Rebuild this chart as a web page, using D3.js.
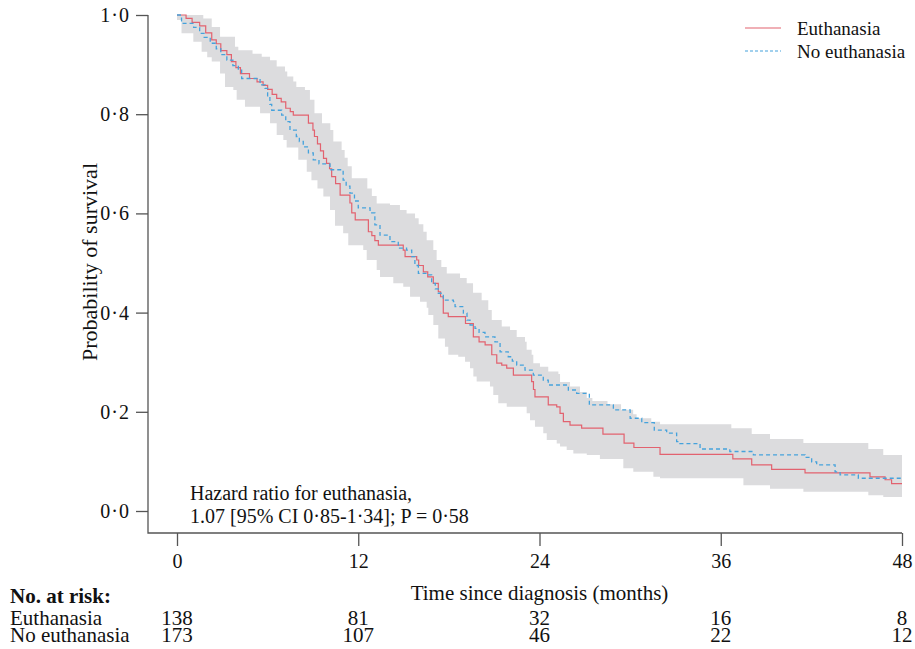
<!DOCTYPE html>
<html>
<head>
<meta charset="utf-8">
<script src="https://cdn.jsdelivr.net/npm/d3@7"></script>
<style>
  html, body { margin: 0; padding: 0; background: #fff; }
  svg { display: block; }
  text { font-family: "Liberation Serif", "Times New Roman", serif; fill: #111; }
</style>
</head>
<body>
<svg id="chart" width="915" height="649"></svg>
<script>
// Kaplan–Meier survival by group: [time in months, survival after the step]
const euthanasia = [
  [0,1.0],[0.6,0.993],[1.0,0.985],[1.5,0.978],[1.9,0.964],[2.3,0.950],[2.6,0.942],[2.9,0.928],
  [3.3,0.920],[3.6,0.906],[3.9,0.894],[4.2,0.882],[4.8,0.872],[5.3,0.865],[5.7,0.858],[6.0,0.850],
  [6.3,0.840],[6.6,0.832],[6.9,0.825],[7.2,0.812],[7.5,0.805],[7.7,0.798],[8.7,0.782],[9.0,0.768],
  [9.1,0.755],[9.3,0.740],[9.5,0.726],[9.7,0.711],[9.9,0.701],[10.1,0.690],[10.24,0.674],[10.5,0.660],
  [10.8,0.637],[11.45,0.621],[11.57,0.601],[11.8,0.587],[12.67,0.563],[12.9,0.555],[13.1,0.545],
  [13.33,0.536],[14.98,0.526],[15.1,0.513],[15.87,0.506],[16.0,0.495],[16.31,0.482],[16.6,0.472],
  [16.97,0.459],[17.3,0.442],[17.45,0.432],[17.63,0.399],[17.96,0.392],[19.1,0.378],[19.62,0.351],
  [20.0,0.341],[20.4,0.335],[20.84,0.315],[21.17,0.298],[21.5,0.294],[21.83,0.288],[22.27,0.274],
  [23.48,0.261],[23.6,0.245],[23.7,0.230],[24.58,0.214],[25.14,0.210],[25.36,0.197],[25.58,0.180],
  [26.02,0.173],[26.79,0.167],[28.2,0.155],[29.6,0.137],[30.25,0.128],[31.98,0.114],[36.8,0.105],
  [38.05,0.093],[39.37,0.084],[41.58,0.077],[45.88,0.069],[46.88,0.063],[47.31,0.055]
];
const noEuthanasia = [
  [0,1.0],[0.3,0.983],[1.1,0.975],[1.5,0.963],[1.8,0.955],[2.2,0.943],[2.6,0.932],[2.9,0.920],
  [3.3,0.909],[3.7,0.898],[4.06,0.889],[4.28,0.872],[5.5,0.859],[5.83,0.852],[6.0,0.835],[6.15,0.820],
  [6.27,0.808],[6.93,0.798],[7.2,0.785],[7.48,0.768],[7.9,0.755],[8.1,0.745],[8.36,0.734],[8.7,0.722],
  [9.02,0.708],[9.4,0.700],[10.13,0.688],[11.0,0.667],[11.2,0.655],[11.45,0.641],[11.75,0.625],
  [12.0,0.611],[12.78,0.601],[13.1,0.577],[13.44,0.556],[14.1,0.543],[14.65,0.530],[15.2,0.526],
  [15.54,0.513],[15.75,0.495],[15.98,0.479],[16.53,0.476],[16.86,0.459],[17.1,0.448],[17.3,0.439],
  [17.63,0.425],[18.3,0.422],[18.41,0.412],[18.96,0.399],[19.2,0.385],[19.4,0.375],[19.73,0.368],
  [20.0,0.360],[20.39,0.351],[21.05,0.341],[21.39,0.321],[21.93,0.311],[22.2,0.302],[22.49,0.294],
  [23.04,0.284],[23.59,0.274],[24.25,0.264],[24.58,0.254],[25.91,0.244],[26.46,0.237],[27.3,0.214],
  [28.89,0.204],[30.0,0.187],[30.77,0.178],[31.6,0.163],[32.42,0.157],[33.08,0.140],[33.3,0.136],
  [34.63,0.125],[36.6,0.120],[38.16,0.113],[41.58,0.108],[42.02,0.099],[42.35,0.093],[43.57,0.079],
  [43.9,0.073],[45.11,0.066]
];
// 95% confidence band, upper and lower limits as step functions
const ciUpper = [
  [0,1.0],[1.74,0.993],[2.3,0.976],[2.85,0.956],[3.84,0.936],[4.06,0.929],[5.0,0.922],[5.61,0.916],
  [6.16,0.909],[6.6,0.896],[7.15,0.886],[7.3,0.876],[7.7,0.866],[7.9,0.855],[8.47,0.849],[8.8,0.829],
  [9.1,0.802],[9.6,0.782],[10.15,0.768],[10.35,0.745],[10.9,0.728],[11.1,0.712],[11.3,0.695],
  [11.57,0.671],[12.6,0.650],[12.9,0.635],[13.22,0.620],[14.1,0.617],[14.76,0.607],[15.2,0.600],
  [15.76,0.590],[16.0,0.578],[16.31,0.563],[16.53,0.546],[16.97,0.526],[17.19,0.506],[17.5,0.492],
  [17.86,0.479],[18.74,0.470],[19.18,0.459],[19.6,0.440],[20.17,0.425],[20.61,0.405],[20.84,0.385],
  [21.5,0.372],[22.05,0.365],[22.49,0.351],[23.04,0.341],[23.15,0.325],[23.48,0.315],[23.59,0.298],
  [24.03,0.291],[24.58,0.281],[25.25,0.276],[25.36,0.260],[26.02,0.251],[26.68,0.240],[27.13,0.228],
  [27.5,0.222],[28.5,0.215],[29.4,0.204],[30.2,0.195],[30.43,0.187],[31.4,0.180],[31.98,0.175],
  [36.7,0.167],[38.05,0.155],[39.26,0.145],[41.47,0.137],[45.77,0.125],[46.76,0.113]
];
const ciLower = [
  [0,0.99],[0.3,0.963],[1.08,0.946],[1.63,0.926],[2.0,0.915],[2.3,0.906],[2.85,0.882],[3.18,0.855],
  [3.73,0.849],[3.95,0.829],[4.5,0.815],[5.5,0.802],[6.16,0.782],[6.6,0.758],[7.04,0.748],[7.26,0.733],
  [8.03,0.708],[8.59,0.684],[8.9,0.667],[9.3,0.650],[9.69,0.634],[10.13,0.607],[10.46,0.575],
  [11.0,0.560],[11.34,0.536],[12.33,0.526],[12.56,0.506],[13.22,0.486],[13.44,0.472],[14.32,0.459],
  [14.98,0.452],[15.43,0.432],[16.09,0.422],[16.53,0.410],[16.64,0.395],[16.97,0.375],[17.3,0.348],
  [17.74,0.331],[17.96,0.315],[18.62,0.311],[19.07,0.301],[19.4,0.288],[19.62,0.271],[19.84,0.261],
  [20.72,0.251],[20.94,0.234],[21.27,0.217],[21.83,0.210],[23.15,0.197],[23.37,0.183],[23.7,0.170],
  [24.25,0.157],[24.48,0.143],[25.14,0.136],[25.36,0.130],[25.8,0.123],[26.24,0.116],[27.13,0.113],
  [28.0,0.105],[29.55,0.086],[30.21,0.079],[31.54,0.069],[31.98,0.066],[37.5,0.052],[39.26,0.045],
  [41.47,0.039],[45.77,0.032],[46.76,0.028]
];

const xTicks = [0, 12, 24, 36, 48];
const yTicks = [0, 0.2, 0.4, 0.6, 0.8, 1.0];
const yTickLabels = ["0·0", "0·2", "0·4", "0·6", "0·8", "1·0"];
const groups = ["Euthanasia", "No euthanasia"];
const atRiskEuthanasia = [138, 81, 32, 16, 8];
const atRiskNoEuthanasia = [173, 107, 46, 22, 12];
const hazardText = ["Hazard ratio for euthanasia,", "1.07 [95% CI 0·85-1·34]; P = 0·58"];

const maxT = 48;
const colRed = "#e2626f";
const colBlue = "#45a2dc";
const colBand = "#dcdcde";
const colAxis = "#555";

const svg = d3.select("#chart");
const x = d3.scaleLinear().domain([0, maxT]).range([177, 902]);
const y = d3.scaleLinear().domain([0, 1]).range([511, 15]);
const axisY = 533;  // baseline of the x axis
const axisX = 148;  // position of the y axis

function stepAt(arr, t) {
  let v = arr[0][1];
  for (const [tt, vv] of arr) { if (tt <= t) v = vv; else break; }
  return v;
}

// confidence band
const bandTimes = Array.from(new Set([...ciUpper.map(d => d[0]), ...ciLower.map(d => d[0]), maxT])).sort((a, b) => a - b);
const band = bandTimes.map(t => ({ t, lo: stepAt(ciLower, t), hi: stepAt(ciUpper, t) }));
svg.append("path")
  .datum(band)
  .attr("fill", colBand)
  .attr("d", d3.area().x(d => x(d.t)).y0(d => y(d.lo)).y1(d => y(d.hi)).curve(d3.curveStepAfter));

// survival curves
const stepLine = d3.line().x(d => x(d[0])).y(d => y(d[1])).curve(d3.curveStepAfter);
function withEnd(arr) { return arr.concat([[maxT, arr[arr.length - 1][1]]]); }
svg.append("path").datum(withEnd(euthanasia))
  .attr("fill", "none").attr("stroke", colRed).attr("stroke-width", 1.2).attr("d", stepLine);
svg.append("path").datum(withEnd(noEuthanasia))
  .attr("fill", "none").attr("stroke", colBlue).attr("stroke-width", 1.3)
  .attr("stroke-dasharray", "4,3").attr("d", stepLine);

// L-shaped frame
svg.append("path")
  .attr("d", `M${axisX},${y(1)}V${axisY}H${x(maxT)}`)
  .attr("fill", "none").attr("stroke", colAxis).attr("stroke-width", 1.3);

// y axis
const gy = svg.append("g").attr("transform", `translate(${axisX},0)`)
  .call(d3.axisLeft(y).tickValues(yTicks).tickSize(12).tickPadding(6)
    .tickFormat((d, i) => yTickLabels[i]));
gy.select(".domain").remove();
gy.selectAll(".tick line").attr("stroke", colAxis).attr("stroke-width", 1.3);
gy.selectAll(".tick text").attr("font-size", 20).attr("fill", "#111")
  .attr("font-family", "Liberation Serif").attr("letter-spacing", 1);

// x axis
const gx = svg.append("g").attr("transform", `translate(0,${axisY})`)
  .call(d3.axisBottom(x).tickValues(xTicks).tickSize(13).tickFormat(d3.format("d")));
gx.select(".domain").remove();
gx.selectAll(".tick line").attr("stroke", colAxis).attr("stroke-width", 1.3);
gx.selectAll(".tick text").attr("font-size", 20).attr("fill", "#111")
  .attr("font-family", "Liberation Serif").attr("y", 35).attr("dy", null);

// axis titles
svg.append("text").attr("x", x(24)).attr("y", 600).attr("text-anchor", "middle")
  .attr("font-size", 21).text("Time since diagnosis (months)");
svg.append("text").attr("transform", `translate(97,262) rotate(-90)`).attr("text-anchor", "middle")
  .attr("font-size", 22).text("Probability of survival");

// hazard ratio annotation
svg.selectAll(".hr").data(hazardText).enter().append("text")
  .attr("x", 190).attr("y", (d, i) => 500 + i * 23).attr("font-size", 20).text(d => d);

// legend
const legend = svg.append("g");
const legendRows = [
  { label: groups[0], color: colRed, dash: null, y: 28 },
  { label: groups[1], color: colBlue, dash: "3,2", y: 51 }
];
legendRows.forEach(r => {
  legend.append("line").attr("x1", 745).attr("x2", 781).attr("y1", r.y).attr("y2", r.y)
    .attr("stroke", r.color).attr("stroke-width", 1.2).attr("stroke-dasharray", r.dash);
  legend.append("text").attr("x", 797).attr("y", r.y + 7).attr("font-size", 19).text(r.label);
});

// number at risk table
svg.append("text").attr("x", 10).attr("y", 603).attr("font-size", 21).attr("font-weight", "bold")
  .text("No. at risk:");
[atRiskEuthanasia, atRiskNoEuthanasia].forEach((row, r) => {
  const yy = 625 + r * 17;
  svg.append("text").attr("x", 10).attr("y", yy).attr("font-size", 21).text(groups[r]);
  svg.selectAll(".risk" + r).data(row).enter().append("text")
    .attr("x", (d, i) => x(xTicks[i])).attr("y", yy).attr("text-anchor", "middle")
    .attr("font-size", 21).text(d => d);
});
</script>
</body>
</html>
